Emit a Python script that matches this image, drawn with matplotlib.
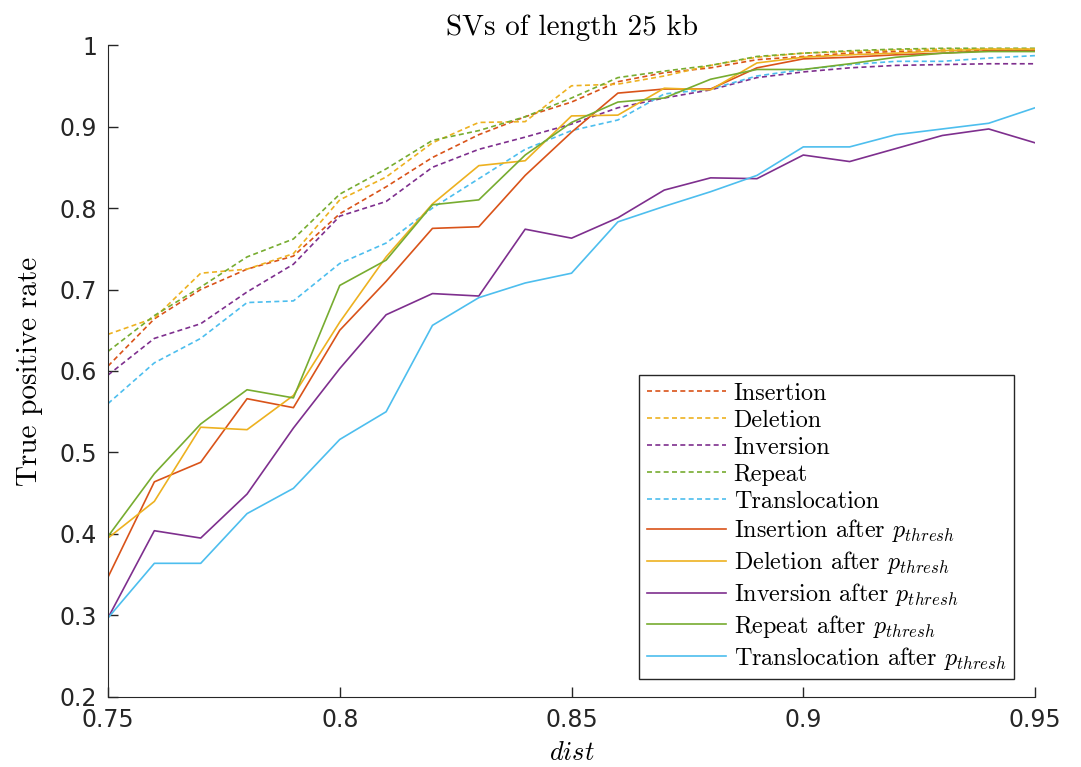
import numpy as np
import matplotlib
matplotlib.use('Agg')
from matplotlib import pyplot as plt

# distance thresholds
dist = [0.75, 0.76, 0.77, 0.78, 0.79, 0.80, 0.81, 0.82, 0.83, 0.84, 0.85,
        0.86, 0.87, 0.88, 0.89, 0.90, 0.91, 0.92, 0.93, 0.94, 0.95]

# true positive rate, before thresholding
insertion = [0.606, 0.664, 0.700, 0.725, 0.741, 0.793, 0.826, 0.862, 0.890, 0.912, 0.930,
             0.955, 0.966, 0.972, 0.982, 0.986, 0.990, 0.992, 0.993, 0.993, 0.994]
deletion = [0.645, 0.665, 0.720, 0.725, 0.744, 0.810, 0.838, 0.880, 0.905, 0.906, 0.950,
            0.952, 0.962, 0.975, 0.985, 0.990, 0.992, 0.994, 0.995, 0.995, 0.995]
inversion = [0.595, 0.640, 0.658, 0.697, 0.731, 0.790, 0.808, 0.850, 0.872, 0.887, 0.903,
             0.923, 0.935, 0.945, 0.960, 0.967, 0.972, 0.975, 0.976, 0.977, 0.977]
repeat = [0.624, 0.668, 0.703, 0.740, 0.762, 0.817, 0.848, 0.883, 0.895, 0.912, 0.935,
          0.960, 0.968, 0.975, 0.986, 0.990, 0.993, 0.995, 0.996, 0.996, 0.996]
translocation = [0.560, 0.610, 0.640, 0.684, 0.686, 0.732, 0.757, 0.800, 0.836, 0.872, 0.895,
                 0.908, 0.940, 0.946, 0.962, 0.970, 0.976, 0.980, 0.980, 0.984, 0.987]

# after p_thresh
insertion_p = [0.347, 0.464, 0.488, 0.566, 0.555, 0.650, 0.710, 0.775, 0.777, 0.840, 0.893,
               0.941, 0.946, 0.946, 0.972, 0.983, 0.985, 0.988, 0.990, 0.993, 0.993]
deletion_p = [0.395, 0.440, 0.531, 0.528, 0.570, 0.660, 0.740, 0.805, 0.852, 0.858, 0.913,
              0.914, 0.947, 0.945, 0.978, 0.985, 0.988, 0.990, 0.993, 0.995, 0.995]
inversion_p = [0.297, 0.404, 0.395, 0.449, 0.530, 0.603, 0.669, 0.695, 0.692, 0.774, 0.763,
               0.788, 0.822, 0.837, 0.836, 0.865, 0.857, 0.873, 0.889, 0.897, 0.880]
repeat_p = [0.397, 0.474, 0.535, 0.577, 0.567, 0.705, 0.736, 0.804, 0.810, 0.865, 0.905,
            0.930, 0.935, 0.958, 0.970, 0.970, 0.977, 0.985, 0.990, 0.992, 0.992]
translocation_p = [0.297, 0.364, 0.364, 0.425, 0.456, 0.516, 0.550, 0.656, 0.690, 0.708, 0.720,
                   0.783, 0.802, 0.820, 0.840, 0.875, 0.875, 0.890, 0.897, 0.904, 0.923]

names = ['Insertion', 'Deletion', 'Inversion', 'Repeat', 'Translocation']
colors = ['#D95319', '#EDB120', '#7E2F8E', '#77AC30', '#4DBEEE']

plt.rcParams['mathtext.fontset'] = 'cm'
serif = {'family': 'cmr10'}

fig = plt.figure(figsize=(10.81, 7.67), dpi=100)
ax = fig.add_axes([0.0999, 0.0913, 0.8576, 0.85])

before = [insertion, deletion, inversion, repeat, translocation]
after = [insertion_p, deletion_p, inversion_p, repeat_p, translocation_p]
for n, c, y in zip(names, colors, before):
    ax.plot(dist, y, '--', color=c, lw=1.2, dashes=(3, 2), label=n)
for n, c, y in zip(names, colors, after):
    ax.plot(dist, y, '-', color=c, lw=1.2, label=n + r' after $p_{thresh}$')

ax.set_xlim(0.75, 0.95)
ax.set_ylim(0.2, 1.0)
ax.set_xticks([0.75, 0.8, 0.85, 0.9, 0.95])
ax.set_xticklabels(['0.75', '0.8', '0.85', '0.9', '0.95'])
ax.set_yticks(np.arange(0.2, 1.01, 0.1))
ax.set_yticklabels(['0.2', '0.3', '0.4', '0.5', '0.6', '0.7', '0.8', '0.9', '1'])
ax.tick_params(direction='in', labelsize=17, length=7, width=1, color='#262626', labelcolor='#262626', pad=8)
ax.spines['top'].set_visible(False)
ax.spines['right'].set_visible(False)
for s in ['left', 'bottom']:
    ax.spines[s].set_color('#262626')

ax.set_title('SVs of length 25 kb', fontdict=serif, fontsize=21, pad=7)
ax.set_xlabel(r'$dist$', fontsize=19, labelpad=6)
ax.set_ylabel('True positive rate', fontdict=serif, fontsize=21, labelpad=12)

leg = ax.legend(loc='lower right', bbox_to_anchor=(0.99, 0.009), prop={'family': 'cmr10', 'size': 17.4},
                fancybox=False, edgecolor='#262626', framealpha=1, handlelength=3.3,
                labelspacing=0.2, borderpad=0.3, handletextpad=0.3)
leg.get_frame().set_linewidth(1)

fig.savefig('out.png', dpi=100)
